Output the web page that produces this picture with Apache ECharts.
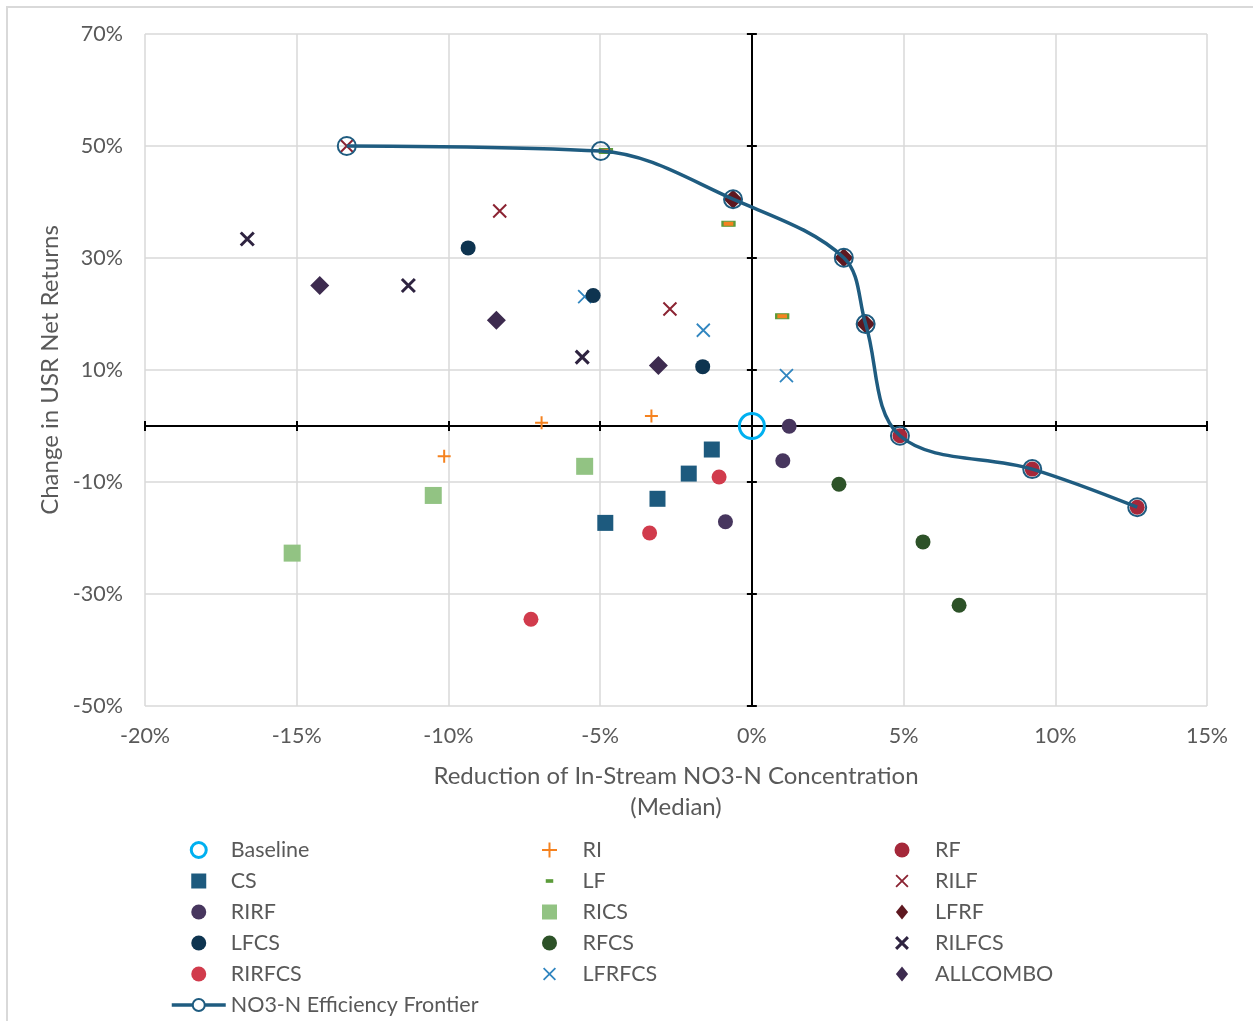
<!DOCTYPE html>
<html><head><meta charset="utf-8">
<script src="https://cdn.jsdelivr.net/npm/echarts@6/dist/echarts.min.js"></script>
<style>
html,body{margin:0;padding:0;background:#fff;overflow:hidden;}
#frame{position:absolute;left:6px;top:6px;width:1400px;height:1200px;border-left:2px solid #D9D9D9;border-top:2px solid #D9D9D9;}
#main{position:absolute;left:0;top:0;width:1253px;height:1021px;}
</style>
</head><body><div id="frame"></div><div id="main"></div>
<script>
// ---------------- DATA (x: % reduction of NO3-N, y: % change in net returns) ----------------
const xTicks = { min: -20, max: 15, interval: 5 };
const yTicks = { min: -50, max: 70, interval: 20 };

const Baseline = [[0, 0]];
const RI       = [[-6.93, 0.6], [-3.31, 1.8], [-10.14, -5.4]];
const RF       = [[4.88, -1.75], [9.24, -7.7], [12.70, -14.5]];
const CS       = [[-4.83, -17.3], [-3.11, -13.0], [-2.08, -8.5], [-1.32, -4.2]];
const LF       = [[-4.81, 49.1], [-0.77, 36.1], [1.00, 19.6]];
const RILF     = [[-13.35, 50.0], [-8.31, 38.4], [-2.70, 20.9]];
const RIRF     = [[-0.87, -17.1], [1.02, -6.2], [1.23, -0.05]];
const RICS     = [[-15.15, -22.7], [-10.50, -12.4], [-5.51, -7.2]];
const LFRF     = [[-0.62, 40.5], [3.03, 30.05], [3.75, 18.2]];
const LFCS     = [[-9.35, 31.8], [-5.23, 23.3], [-1.62, 10.6]];
const RFCS     = [[2.87, -10.4], [5.64, -20.7], [6.83, -32.0]];
const RILFCS   = [[-16.63, 33.4], [-11.32, 25.1], [-5.59, 12.3]];
const RIRFCS   = [[-7.28, -34.5], [-3.37, -19.1], [-1.08, -9.1]];
const LFRFCS   = [[-5.51, 23.1], [-1.60, 17.1], [1.14, 9.0]];
const ALLCOMBO = [[-14.24, 25.1], [-8.42, 18.9], [-3.08, 10.8]];
const Frontier = [[-13.35, 50.0], [-4.98, 49.1], [-0.62, 40.5], [3.03, 30.05], [3.75, 18.2], [4.88, -1.75], [9.24, -7.7], [12.70, -14.5]];

const scatterNames = ['Baseline','RI','RF','CS','LF','RILF','RIRF','RICS','LFRF','LFCS','RFCS','RILFCS','RIRFCS','LFRFCS','ALLCOMBO'];
const scatterData = { Baseline, RI, RF, CS, LF, RILF, RIRF, RICS, LFRF, LFCS, RFCS, RILFCS, RIRFCS, LFRFCS, ALLCOMBO };
const frontierName = 'NO3-N Efficiency Frontier';
const legendCols = [
  ['Baseline','CS','RIRF','LFCS','RIRFCS', frontierName],
  ['RI','LF','RICS','RFCS','LFRFCS'],
  ['RF','RILF','LFRF','RILFCS','ALLCOMBO']
];

// ---------------- STYLES ----------------
const FONT = 'Lato';
const TXT = '#595959';
const GRID = '#D9D9D9';
const X_PATH = 'path://M0,0L10,10M10,0L0,10';
const PLUS_PATH = 'path://M5,0L5,10M0,5L10,5';
const SQ_ICON = 'path://M0,0H10V10H0Z';
const DIA_ICON = 'path://M6.5,0L13,8L6.5,16L0,8Z';
const DASH_ICON = 'path://M0,0L0,0M14,14L14,14M3.5,5.3H10.5V8.7H3.5Z';
const XS_ICON = 'path://M0,0L0,0M14,14L14,14M1.5,1.5L12.5,12.5M12.5,1.5L1.5,12.5';

const STY = {
  Baseline: { symbol: 'circle', size: 25, color: 'rgba(255,255,255,0)', border: '#00B0F0', bw: 3,
              icon: 'circle', li: { color: '#fff', borderColor: '#00B0F0', borderWidth: 3 } },
  RI:       { symbol: PLUS_PATH, size: 13, color: 'rgba(0,0,0,0)', border: '#F5821F', bw: 2,
              icon: PLUS_PATH, li: { color: 'rgba(0,0,0,0)', borderColor: '#F5821F', borderWidth: 2 } },
  RF:       { symbol: 'circle', size: 15, color: '#A5283A', icon: 'circle', li: { color: '#A5283A', borderWidth: 0 } },
  CS:       { symbol: 'rect', size: 16, color: '#1D5A7E', icon: SQ_ICON, li: { color: '#1D5A7E', borderWidth: 0 } },
  LF:       { symbol: 'rect', size: [12, 5], color: '#F5821F', border: '#5B9B3A', bw: 1.5,
              icon: DASH_ICON, li: { color: '#5B9B3A', borderWidth: 0 } },
  RILF:     { symbol: X_PATH, size: 13, color: 'rgba(0,0,0,0)', border: '#8B2332', bw: 2,
              icon: XS_ICON, li: { color: 'rgba(0,0,0,0)', borderColor: '#8B2332', borderWidth: 1.8 } },
  RIRF:     { symbol: 'circle', size: 15, color: '#47365E', icon: 'circle', li: { color: '#47365E', borderWidth: 0 } },
  RICS:     { symbol: 'rect', size: 17, color: '#92C383', icon: SQ_ICON, li: { color: '#92C383', borderWidth: 0 } },
  LFRF:     { symbol: 'diamond', size: 19, color: '#5E1820', icon: DIA_ICON, li: { color: '#5E1820', borderWidth: 0 } },
  LFCS:     { symbol: 'circle', size: 15, color: '#0E3450', icon: 'circle', li: { color: '#0E3450', borderWidth: 0 } },
  RFCS:     { symbol: 'circle', size: 15, color: '#2D5228', icon: 'circle', li: { color: '#2D5228', borderWidth: 0 } },
  RILFCS:   { symbol: X_PATH, size: 13, color: 'rgba(0,0,0,0)', border: '#2E2340', bw: 3,
              icon: XS_ICON, li: { color: 'rgba(0,0,0,0)', borderColor: '#2E2340', borderWidth: 3 } },
  RIRFCS:   { symbol: 'circle', size: 15, color: '#D13B4C', icon: 'circle', li: { color: '#D13B4C', borderWidth: 0 } },
  LFRFCS:   { symbol: X_PATH, size: 13, color: 'rgba(0,0,0,0)', border: '#3186C0', bw: 1.8,
              icon: XS_ICON, li: { color: 'rgba(0,0,0,0)', borderColor: '#3186C0', borderWidth: 1.8 } },
  ALLCOMBO: { symbol: 'diamond', size: 19, color: '#3D2B4F', icon: DIA_ICON, li: { color: '#3D2B4F', borderWidth: 0 } }
};
const FRONT_COLOR = '#1F5C80';

// ---------------- SERIES ----------------
const series = scatterNames.map(function (n) {
  const s = STY[n];
  return {
    name: n, type: 'scatter', xAxisIndex: 0, yAxisIndex: 0,
    data: scatterData[n],
    symbol: s.symbol, symbolSize: s.size,
    itemStyle: { color: s.color, borderColor: s.border || s.color, borderWidth: s.bw || 0, opacity: 1 },
    emphasis: { disabled: true },
    z: n === 'LFCS' ? 3 : 2
  };
});
series.push({
  name: frontierName, type: 'line', xAxisIndex: 0, yAxisIndex: 0,
  data: Frontier, smooth: 0.35,
  symbol: 'circle', symbolSize: 18, showAllSymbol: true,
  lineStyle: { color: FRONT_COLOR, width: 3.5 },
  itemStyle: { color: 'rgba(255,255,255,0)', borderColor: FRONT_COLOR, borderWidth: 2 },
  emphasis: { disabled: true },
  z: 4
});

// ---------------- LEGENDS ----------------
const legendLefts = [170, 541, 893];
const legendWidths = [54, 56, 56];
const legends = legendCols.map(function (col, i) {
  return {
    orient: 'vertical', left: legendLefts[i], top: 839, padding: 0,
    itemWidth: legendWidths[i], itemHeight: 15, itemGap: 9,
    textStyle: { color: TXT, fontFamily: FONT, fontSize: 21.5, lineHeight: 21, padding: [0, 0, 0, 0] },
    selectedMode: false,
    data: col.map(function (n) {
      if (n === frontierName) {
        return { name: n, itemStyle: { color: '#fff', borderColor: FRONT_COLOR, borderWidth: 2 },
                 lineStyle: { color: FRONT_COLOR, width: 3.5 } };
      }
      return { name: n, icon: STY[n].icon, itemStyle: STY[n].li };
    })
  };
});

// ---------------- AXES ----------------
const pct = function (v) { return v + '%'; };
function xAxisCfg(pos, main) {
  return {
    type: 'value', position: pos, min: xTicks.min, max: xTicks.max, interval: xTicks.interval,
    name: main ? 'Reduction of In-Stream NO3-N Concentration\n(Median)' : '',
    nameLocation: 'middle', nameGap: 55,
    nameTextStyle: { color: TXT, fontFamily: FONT, fontSize: 24, lineHeight: 31 },
    axisLine: { show: true, onZero: true, onZeroAxisIndex: 0, lineStyle: { color: '#000', width: 2 } },
    axisTick: { show: true, length: 5, lineStyle: { color: '#000', width: 2 } },
    axisLabel: { show: main, formatter: pct, color: TXT, fontFamily: FONT, fontSize: 21.5, margin: 19 },
    splitLine: { show: main, lineStyle: { color: GRID, width: 1.5 } }
  };
}
function yAxisCfg(pos, main) {
  return {
    type: 'value', position: pos, min: yTicks.min, max: yTicks.max, interval: yTicks.interval,
    name: main ? 'Change in USR Net Returns' : '',
    nameLocation: 'middle', nameGap: 83, nameRotate: 90,
    nameTextStyle: { color: TXT, fontFamily: FONT, fontSize: 24 },
    axisLine: { show: true, onZero: true, onZeroAxisIndex: 0, lineStyle: { color: '#000', width: 2 } },
    axisTick: { show: true, length: 5, lineStyle: { color: '#000', width: 2 } },
    axisLabel: { show: main, formatter: pct, color: TXT, fontFamily: FONT, fontSize: 21.5, margin: 22 },
    splitLine: { show: main, lineStyle: { color: GRID, width: 1.5 } }
  };
}

const chart = echarts.init(document.getElementById('main'), null, { renderer: 'canvas' });
chart.setOption({
  backgroundColor: 'rgba(0,0,0,0)',
  animation: false,
  textStyle: { fontFamily: FONT },
  grid: { left: 145, right: 46, top: 34, bottom: 315, containLabel: false },
  xAxis: [xAxisCfg('bottom', true), xAxisCfg('top', false)],
  yAxis: [yAxisCfg('left', true), yAxisCfg('right', false)],
  legend: legends,
  series: series
});
</script></body></html>
